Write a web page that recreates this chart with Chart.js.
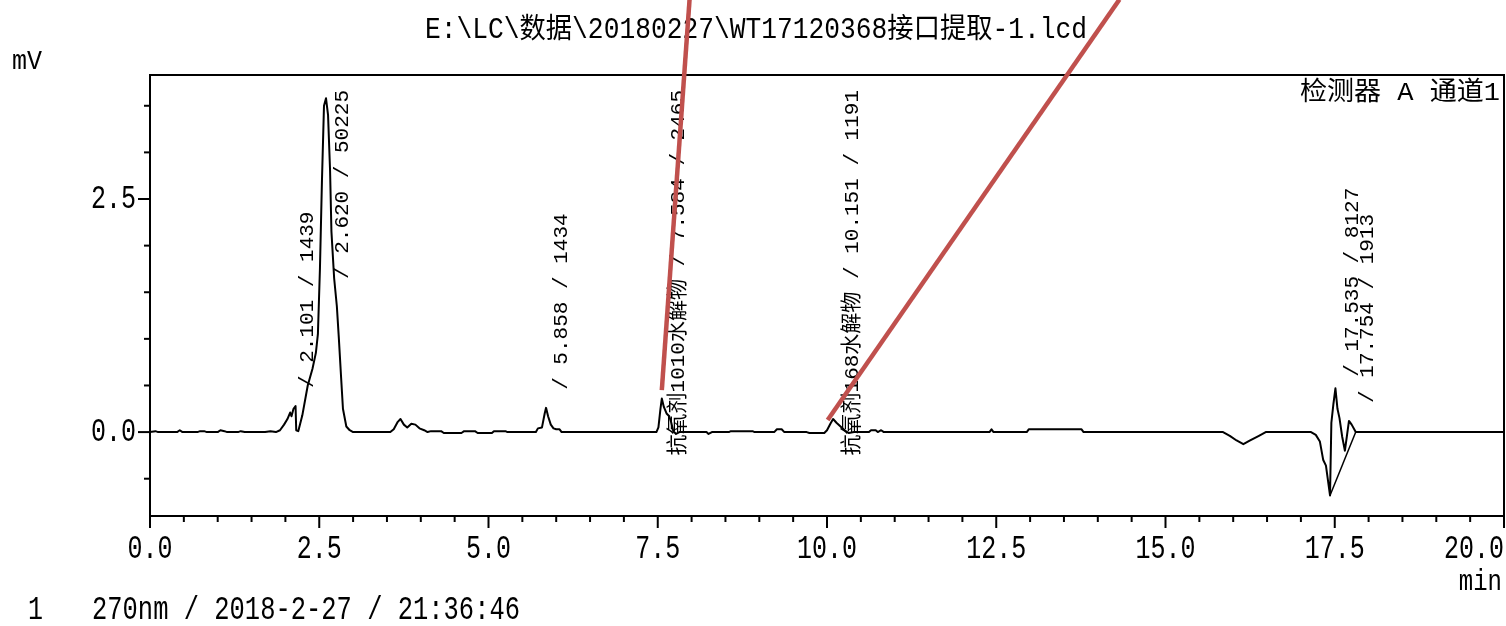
<!DOCTYPE html>
<html>
<head>
<meta charset="utf-8">
<title>LC chromatogram</title>
<script src="https://cdn.jsdelivr.net/npm/chart.js@4.4.1/dist/chart.umd.min.js"></script>
<style>
  html, body { margin: 0; padding: 0; background: #fff; }
  canvas { display: block; }
</style>
</head>
<body>
<canvas id="lcChart" width="1506" height="626"></canvas>
<script>
//! trace: retention time (min) / detector signal (mV)
const times = [
    0.00, 0.08, 0.12, 0.40, 0.44, 0.48, 0.70, 0.74, 0.80, 0.84, 1.00, 1.04, 1.10, 1.14, 1.30, 1.34, 1.40, 1.70, 1.78, 1.86,
    1.92, 1.98, 2.03, 2.07, 2.09, 2.12, 2.15, 2.16, 2.19, 2.25, 2.33, 2.40, 2.45, 2.48, 2.51, 2.54, 2.57, 2.60, 2.63, 2.66,
    2.68, 2.72, 2.76, 2.79, 2.82, 2.85, 2.90, 2.95, 3.00, 3.55, 3.60, 3.66, 3.70, 3.75, 3.80, 3.86, 3.92, 3.98, 4.05, 4.10,
    4.15, 4.30, 4.34, 4.60, 4.64, 4.80, 4.84, 5.05, 5.08, 5.25, 5.28, 5.70, 5.73, 5.79, 5.83, 5.85, 5.88, 5.92, 5.96, 6.00,
    6.05, 6.08, 7.48, 7.51, 7.54, 7.56, 7.59, 7.63, 7.67, 7.70, 7.73, 7.77, 7.82, 8.22, 8.25, 8.30, 8.55, 8.58, 8.90, 8.93,
    9.22, 9.26, 9.33, 9.37, 9.70, 9.74, 9.96, 10.00, 10.05, 10.09, 10.14, 10.20, 10.26, 10.32, 10.40, 10.62, 10.65, 10.72, 10.75, 10.80,
    10.84, 12.40, 12.43, 12.46, 12.95, 12.98, 13.76, 13.79, 15.85, 15.95, 16.05, 16.15, 16.25, 16.38, 16.48, 17.15, 17.22, 17.28, 17.33, 17.37,
    17.43, 17.45, 17.48, 17.51, 17.54, 17.57, 17.61, 17.65, 17.71, 17.75, 17.81, 20.00
];
const signal = [
    0.00, 0.01, 0.00, 0.00, 0.02, 0.00, 0.00, 0.01, 0.01, 0.00, 0.00, 0.02, 0.01, 0.00, 0.00, 0.01, 0.00, 0.00, 0.01, 0.00,
    0.02, 0.08, 0.14, 0.21, 0.17, 0.25, 0.28, 0.02, 0.01, 0.18, 0.50, 0.68, 0.85, 1.05, 1.75, 2.70, 3.50, 3.58, 3.40, 2.80,
    2.15, 1.65, 1.35, 1.00, 0.62, 0.25, 0.06, 0.02, 0.00, 0.00, 0.03, 0.11, 0.14, 0.08, 0.05, 0.09, 0.08, 0.04, 0.02, 0.00,
    0.01, 0.01, -0.01, -0.01, 0.01, 0.01, -0.01, -0.01, 0.01, 0.01, 0.00, 0.00, 0.04, 0.05, 0.20, 0.26, 0.17, 0.08, 0.04, 0.03,
    0.03, 0.00, 0.00, 0.05, 0.25, 0.36, 0.27, 0.20, 0.17, 0.10, 0.01, -0.02, 0.00, 0.00, -0.02, 0.00, 0.00, 0.01, 0.01, 0.00,
    0.00, 0.03, 0.03, 0.00, 0.00, -0.01, -0.01, 0.02, 0.09, 0.14, 0.10, 0.06, 0.02, -0.01, 0.00, 0.00, 0.02, 0.02, 0.00, 0.02,
    0.00, 0.00, 0.03, 0.00, 0.00, 0.03, 0.03, 0.00, 0.00, -0.04, -0.09, -0.13, -0.09, -0.04, 0.00, 0.00, -0.03, -0.10, -0.30, -0.36,
    -0.68, 0.10, 0.30, 0.47, 0.25, 0.15, -0.05, -0.20, 0.12, 0.08, 0.00, 0.00
];

//! integration baseline under the negative peak
const baseTimes = [17.43, 17.81];
const baseSignal = [-0.68, 0.00];

//! peak annotations
const peakNames = ["", "", "", "抗氧剂1010水解物", "抗氧剂168水解物", "", ""];
const peakTimes = [2.101, 2.620, 5.858, 7.584, 10.151, 17.535, 17.754];
const peakAreas = [1439, 50225, 1434, 2465, 1191, 8127, 1913];
const peakHeights = [0.28, 3.58, 0.26, 0.36, 0.14, 0.40, 0.12];

//! red hand-drawn pointer lines (data units)
const arrowATimes = [7.97, 7.56];
const arrowASignal = [4.64, 0.45];
const arrowBTimes = [14.32, 10.01];
const arrowBSignal = [4.64, 0.13];

//! axes
const xTickLabels = ["0.0", "2.5", "5.0", "7.5", "10.0", "12.5", "15.0", "17.5", "20.0"];
const yTickLabels = ["0.0", "2.5"];

const MONO = '"Liberation Mono", "DejaVu Sans Mono", "Noto Sans CJK SC", monospace';

function toPoints(xs, ys) {
    return xs.map((x, i) => ({ x: x, y: ys[i] }));
}

function drawText(ctx, str, x, y, opts) {
    const o = Object.assign({ size: 25, align: "left", sy: 1.3, fit: 0 }, opts);
    ctx.save();
    ctx.font = o.size + "px " + MONO;
    ctx.fillStyle = "#000";
    ctx.textAlign = o.align;
    ctx.textBaseline = "middle";
    let sx = 1;
    if (o.fit) sx = o.fit / ctx.measureText(str).width;
    ctx.translate(x, y);
    ctx.scale(sx, o.sy);
    ctx.fillText(str, 0, 0);
    ctx.restore();
}

function isMultiple(v, step) {
    return Math.abs(v / step - Math.round(v / step)) < 1e-6;
}

//! frame, ticks, labels and all printout text
const printoutPlugin = {
    id: "printout",
    beforeDatasetsDraw(chart) {
        const ctx = chart.ctx;
        const area = chart.chartArea;
        const xs = chart.scales.x;
        const ys = chart.scales.y;

        ctx.save();
        ctx.strokeStyle = "#000";
        ctx.lineWidth = 2;
        ctx.strokeRect(area.left, area.top, area.right - area.left, area.bottom - area.top);

        // y ticks
        ys.ticks.forEach(t => {
            const py = ys.getPixelForValue(t.value);
            const len = isMultiple(t.value, 2.5) ? 12 : 6;
            ctx.beginPath();
            ctx.moveTo(area.left - len, py);
            ctx.lineTo(area.left, py);
            ctx.stroke();
        });
        // x ticks
        xs.ticks.forEach(t => {
            const px = xs.getPixelForValue(t.value);
            const len = isMultiple(t.value, 2.5) ? 12 : 6;
            ctx.beginPath();
            ctx.moveTo(px, area.bottom);
            ctx.lineTo(px, area.bottom + len);
            ctx.stroke();
        });
        ctx.restore();

        // tick labels
        yTickLabels.forEach(lbl => {
            drawText(ctx, lbl, area.left - 14, ys.getPixelForValue(parseFloat(lbl)), { align: "right" });
        });
        xTickLabels.forEach((lbl, i) => {
            const last = i === xTickLabels.length - 1;
            const px = xs.getPixelForValue(parseFloat(lbl));
            drawText(ctx, lbl, last ? area.right : px, area.bottom + 33, { align: last ? "right" : "center" });
        });

        // titles
        drawText(ctx, "E:\\LC\\数据\\20180227\\WT17120368接口提取-1.lcd", 756, 30, { align: "center", fit: 662, sy: 1.15 });
        drawText(ctx, "mV", 12, 62, { sy: 1.1 });
        drawText(ctx, "min", 1502, 582, { align: "right", size: 24, sy: 1.2 });
        drawText(ctx, "检测器 A 通道1", area.right - 4, 93, { align: "right", size: 24, sy: 1.1, fit: 200 });
        drawText(ctx, "1", 28, 610);
        drawText(ctx, "270nm / 2018-2-27 / 21:36:46", 92, 610, { fit: 428 });

        // peak labels, rotated
        ctx.save();
        ctx.font = "21px " + MONO;
        ctx.fillStyle = "#000";
        ctx.textAlign = "left";
        ctx.textBaseline = "middle";
        peakTimes.forEach((rt, i) => {
            const str = (peakNames[i] ? peakNames[i] + " " : "") + "/ " + rt.toFixed(3) + " / " + peakAreas[i];
            const w = ctx.measureText(str).width;
            const px = xs.getPixelForValue(rt) + 15;
            const start = Math.max(ys.getPixelForValue(peakHeights[i]) - 18, area.top + 15 + w);
            ctx.save();
            ctx.translate(px, start);
            ctx.rotate(-Math.PI / 2);
            ctx.fillText(str, 0, 0);
            ctx.restore();
        });
        ctx.restore();
    }
};

const ctx = document.getElementById("lcChart").getContext("2d");
const lcChart = new Chart(ctx, {
    type: "line",
    data: {
        datasets: [
            {
                label: "检测器 A 通道1",
                data: toPoints(times, signal),
                borderColor: "#000",
                borderWidth: 2,
                borderJoinStyle: "round",
                pointRadius: 0,
                tension: 0,
                order: 1
            },
            {
                label: "baseline",
                data: toPoints(baseTimes, baseSignal),
                borderColor: "#000",
                borderWidth: 1.5,
                pointRadius: 0,
                order: 1
            },
            {
                label: "mark A",
                data: toPoints(arrowATimes, arrowASignal),
                borderColor: "#c0504d",
                borderWidth: 4.5,
                pointRadius: 0,
                clip: false,
                order: -1
            },
            {
                label: "mark B",
                data: toPoints(arrowBTimes, arrowBSignal),
                borderColor: "#c0504d",
                borderWidth: 4.5,
                pointRadius: 0,
                clip: false,
                order: -1
            }
        ]
    },
    options: {
        responsive: false,
        animation: false,
        devicePixelRatio: 1,
        layout: { padding: { top: 75, right: 2, left: 0, bottom: 0 } },
        plugins: {
            legend: { display: false },
            tooltip: { enabled: false },
            title: { display: false }
        },
        scales: {
            x: {
                type: "linear",
                min: 0,
                max: 20,
                ticks: { stepSize: 0.5, display: false },
                grid: { display: false },
                border: { display: false },
                afterBuildTicks: s => { s.ticks = s.ticks.filter(t => isMultiple(t.value, 0.5)); },
                afterFit: s => { s.height = 110; s.paddingLeft = 0; s.paddingRight = 0; }
            },
            y: {
                type: "linear",
                min: -0.9,
                max: 3.83,
                ticks: { stepSize: 0.5, display: false },
                grid: { display: false },
                border: { display: false },
                afterBuildTicks: s => { s.ticks = s.ticks.filter(t => isMultiple(t.value, 0.5)); },
                afterFit: s => { s.width = 150; s.paddingTop = 0; s.paddingBottom = 0; }
            }
        }
    },
    plugins: [printoutPlugin]
});
</script>
</body>
</html>
